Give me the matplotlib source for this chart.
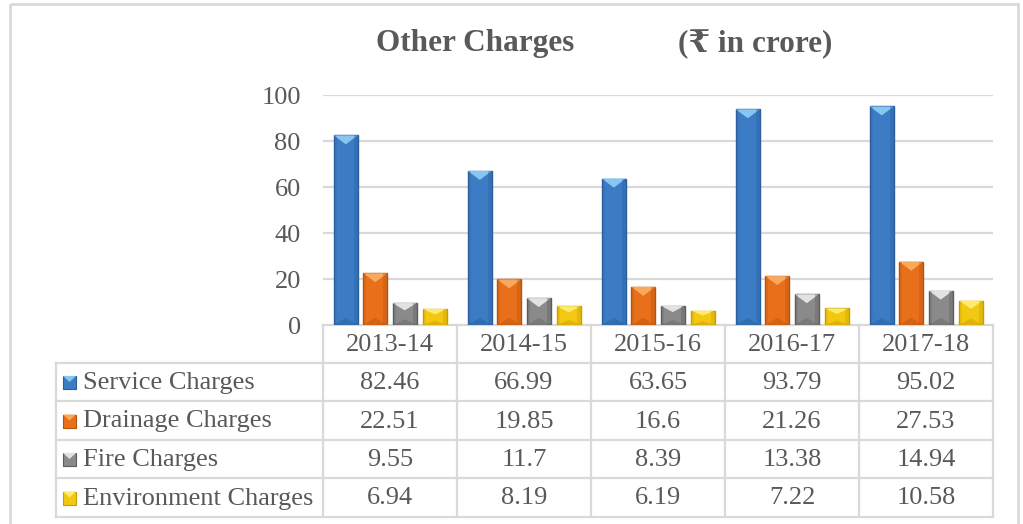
"""
Other Charges (Rs in crore) - clustered bevel bars with a data table below.
"""

import numpy as np
import matplotlib
import matplotlib.pyplot as plt
from matplotlib.patches import Polygon, Rectangle

matplotlib.use("Agg")

# ---- data ----
years = ["2013-14", "2014-15", "2015-16", "2016-17", "2017-18"]
series_names = ["Service Charges", "Drainage Charges", "Fire Charges", "Environment Charges"]
service = [82.46, 66.99, 63.65, 93.79, 95.02]
drainage = [22.51, 19.85, 16.6, 21.26, 27.53]
fire = [9.55, 11.7, 8.39, 13.38, 14.94]
environment = [6.94, 8.19, 6.19, 7.22, 10.58]
yticks = [0, 20, 40, 60, 80, 100]

series = [service, drainage, fire, environment]
# body, edge, light top, dark bottom
palette = [
    ("#3B7CC4", "#2A5E9C", "#86C6F0", "#2C64A6"),
    ("#E8701A", "#B5530F", "#F8A95E", "#C65A10"),
    ("#8A8A8A", "#5C5C5C", "#E2E2E2", "#6E6E6E"),
    ("#F3C813", "#C79F00", "#FCEB6E", "#D2A700"),
]

W, H = 1023, 524
TXT = "#595959"
LINE = "#D9D9D9"
SERIF = ["Liberation Serif", "DejaVu Serif", "DejaVu Sans"]
FS = 19

fig = plt.figure(figsize=(W / 100, H / 100), dpi=100)

# background axes in pixel coordinates for frame, title and table
bg = fig.add_axes([0, 0, 1, 1])
bg.set_xlim(0, W)
bg.set_ylim(H, 0)
bg.axis("off")

bg.add_patch(Rectangle((10, 4), 1008, 530, fill=False, edgecolor=LINE, linewidth=2))

bg.text(475, 44, "Other Charges", ha="center", va="center", fontsize=22.5,
        fontweight="bold", color=TXT, family=SERIF)
bg.text(755, 44, "(\u20b9 in crore)", ha="center", va="center", fontsize=22.5,
        fontweight="bold", color=TXT, family=SERIF)

# ---- bar axes ----
x_left, x_right, y_top, y_bot = 323, 993, 95, 325
ax = fig.add_axes([x_left / W, 1 - y_bot / H, (x_right - x_left) / W, (y_bot - y_top) / H])
ax.set_xlim(0, len(years))
ax.set_ylim(0, 100)
ax.set_facecolor("none")
for s in ax.spines.values():
    s.set_visible(False)
ax.set_xticks([])
ax.set_yticks(yticks)
ax.set_yticklabels([str(t) for t in yticks], fontsize=FS, color=TXT, family=SERIF)
ax.tick_params(axis="y", length=0, pad=16)
for t in yticks[1:]:
    ax.axhline(t, color=LINE, linewidth=1.6, zorder=0)

px_x = len(years) / (x_right - x_left)   # data units per pixel, x
px_y = 100 / (y_bot - y_top)              # data units per pixel, y
bar_w = 0.18
offsets = [-0.33, -0.11, 0.11, 0.335]
bev_x = 4 * px_x

for si, vals in enumerate(series):
    body, edge, light, dark = palette[si]
    xs = np.arange(len(years)) + 0.5 + offsets[si]
    ax.bar(xs, vals, width=bar_w, color=body, edgecolor=edge, linewidth=1.0, zorder=2)
    for x, v in zip(xs, vals):
        l, r = x - bar_w / 2, x + bar_w / 2
        dy = min(9 * px_y, v / 3)
        # light top chevron
        ax.add_patch(Polygon([(l, v), (r, v), (x, v - dy)], closed=True,
                             facecolor=light, edgecolor="none", zorder=3))
        # darker bottom chevron
        ax.add_patch(Polygon([(l, 0), (r, 0), (x, dy * 0.8)], closed=True,
                             facecolor=dark, edgecolor="none", zorder=3, alpha=0.6))
        # side shading
        ax.add_patch(Rectangle((r - bev_x, 0), bev_x, v, facecolor=edge,
                               edgecolor="none", alpha=0.35, zorder=3))
        ax.add_patch(Rectangle((l, 0), bev_x * 0.8, v, facecolor=edge,
                               edgecolor="none", alpha=0.2, zorder=3))

# ---- data table ----
col_x = [323, 457, 591, 725, 859, 993]
row_y = [325, 363, 401, 440, 478, 517]
lw = 1.6

bg.plot([col_x[0], col_x[-1]], [row_y[0]] * 2, color=LINE, lw=lw)
for y in row_y[1:]:
    bg.plot([56, col_x[-1]], [y, y], color=LINE, lw=lw)
bg.plot([56, 56], [row_y[1], row_y[-1]], color=LINE, lw=lw)
for x in col_x:
    bg.plot([x, x], [row_y[0], row_y[-1]], color=LINE, lw=lw)

for ci, yr in enumerate(years):
    cx = (col_x[ci] + col_x[ci + 1]) / 2
    bg.text(cx, (row_y[0] + row_y[1]) / 2 + 1, yr, ha="center", va="center",
            fontsize=FS, color=TXT, family=SERIF)

for si, (name, vals) in enumerate(zip(series_names, series)):
    cy = (row_y[si + 1] + row_y[si + 2]) / 2
    body, edge, light, dark = palette[si]
    # legend key
    bg.add_patch(Rectangle((63, cy - 6), 13, 13, facecolor=body, edgecolor=edge, lw=0.8))
    bg.add_patch(Polygon([(63, cy - 6), (76, cy - 6), (69.5, cy)], closed=True,
                         facecolor=light, edgecolor="none"))
    bg.text(83, cy + 1, name, ha="left", va="center", fontsize=FS, color=TXT, family=SERIF)
    for ci, v in enumerate(vals):
        cx = (col_x[ci] + col_x[ci + 1]) / 2
        bg.text(cx, cy + 1, f"{v:g}", ha="center", va="center", fontsize=FS,
                color=TXT, family=SERIF)

fig.savefig("out.png", dpi=100)
plt.close()
